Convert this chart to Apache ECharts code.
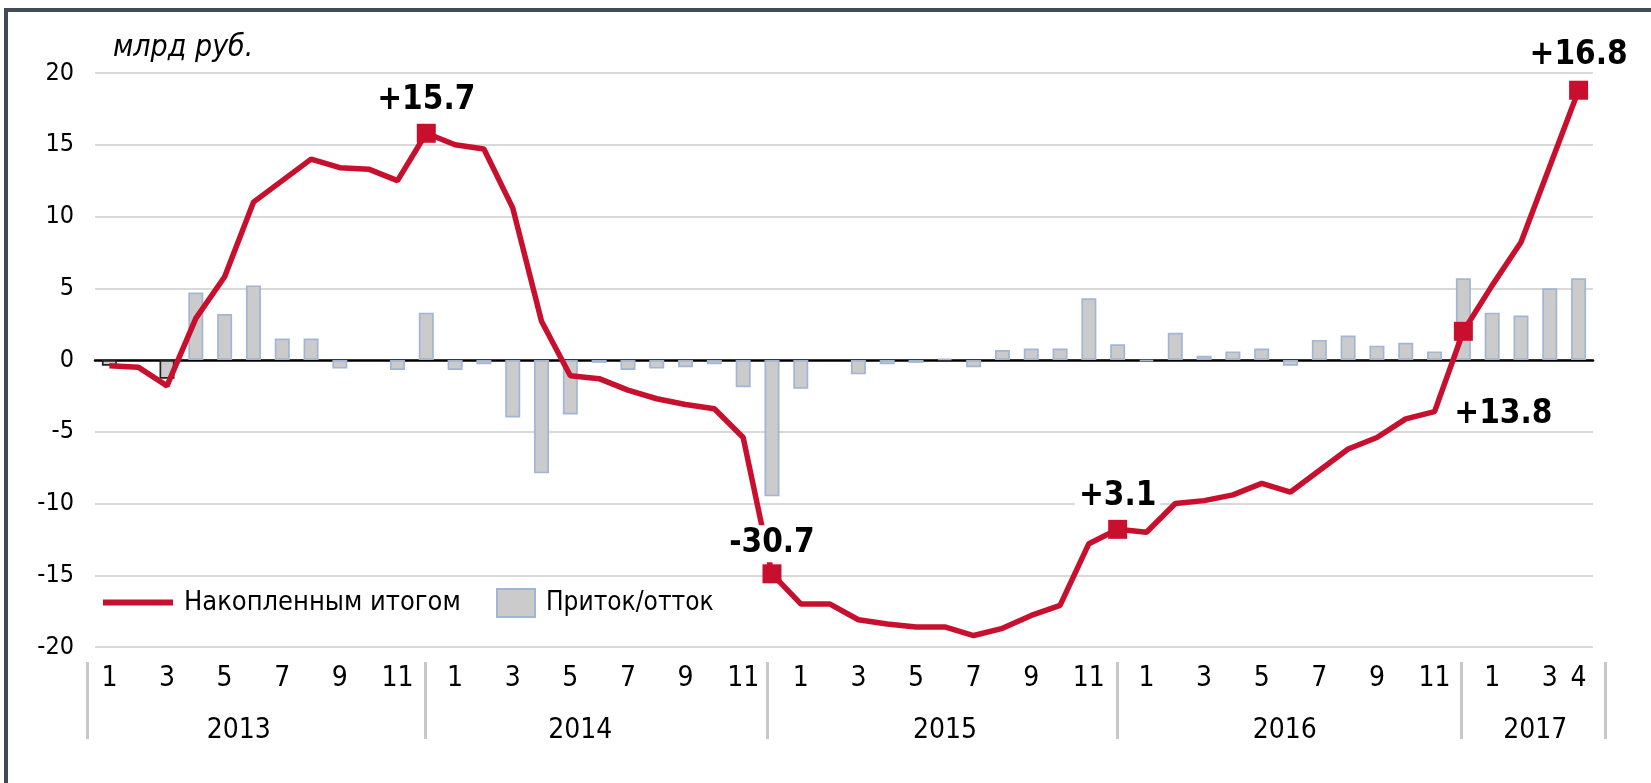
<!DOCTYPE html>
<html>
<head>
<meta charset="utf-8">
<script src="https://cdn.jsdelivr.net/npm/echarts@6/dist/echarts.min.js"></script>
<style>
    html, body { margin: 0; padding: 0; background: #fff; }
    #chart { position: absolute; left: 0; top: 0; width: 1651px; height: 783px; }
    #frame { position: absolute; left: 4px; top: 8px; right: 0; bottom: 0;
             border-top: 4px solid #404b55; border-left: 4px solid #404b55; pointer-events: none; }
</style>
</head>
<body>
<div id="chart"></div>
<div id="frame"></div>
<script>
const font = "'DejaVu Sans Condensed', 'Noto Sans', sans-serif";

// month of each point, 2013-01 .. 2017-04
const months = [
    '1', '2', '3', '4', '5', '6', '7', '8', '9', '10', '11', '12',
    '1', '2', '3', '4', '5', '6', '7', '8', '9', '10', '11', '12',
    '1', '2', '3', '4', '5', '6', '7', '8', '9', '10', '11', '12',
    '1', '2', '3', '4', '5', '6', '7', '8', '9', '10', '11', '12',
    '1', '2', '3', '4'
];
// monthly inflow/outflow, bn rub
const flow = [
    -0.4, 0, -1.3, 4.7, 3.2, 5.2, 1.5, 1.5, -0.6, 0, -0.7, 3.3,
    -0.7, -0.3, -4.0, -7.9, -3.8, -0.2, -0.7, -0.6, -0.5, -0.3, -1.9, -9.5,
    -2.0, 0, -1.0, -0.3, -0.2, 0.1, -0.5, 0.7, 0.8, 0.8, 4.3, 1.1,
    -0.1, 1.9, 0.3, 0.6, 0.8, -0.4, 1.4, 1.7, 1.0, 1.2, 0.6, 5.7,
    3.3, 3.1, 5.0, 5.7
];
// cumulative total
const cumulative = [
    -0.4, -0.5, -1.8, 2.9, 5.8, 11.0, 12.5, 14.0, 13.4, 13.3, 12.5, 15.8,
    15.0, 14.7, 10.6, 2.7, -1.1, -1.3, -2.1, -2.7, -3.1, -3.4, -5.4, -14.9,
    -17.0, -17.0, -18.1, -18.4, -18.6, -18.6, -19.2, -18.7, -17.8, -17.1, -12.8, -11.8,
    -12.0, -10.0, -9.8, -9.4, -8.6, -9.2, -7.7, -6.2, -5.4, -4.1, -3.6, 2.0,
    5.2, 8.2, 13.5, 18.8
];
const outlinedBars = [0, 2];
const markIdx = [11, 23, 35, 47, 51];
const markText = ['+15.7', '-30.7', '+3.1', '+13.8', '+16.8'];
const years = ['2013', '2014', '2015', '2016', '2017'];
// where the year captions and the separators sit, in months from the start
const yearLabelAt = [4.98, 16.84, 29.5, 41.3, 50.0];
const yearBreaks = [-0.29, 11.44, 23.34, 35.47, 47.44, 52.42];

const red = '#c8102e';

const barData = flow.map((v, i) => {
    const item = {value: v};
    if (outlinedBars.includes(i)) item.itemStyle = {borderColor: '#222'};
    if (v === 0) item.itemStyle = {borderWidth: 0};
    return item;
});

const lineData = cumulative.map((v, i) => {
    const k = markIdx.indexOf(i);
    if (k < 0) return v;
    const label = {
        show: true,
        formatter: markText[k],
        position: 'top',
        distance: 5,
        fontFamily: font,
        fontWeight: 'bold',
        fontSize: 33,
        color: '#000',
        padding: [2, 4]
    };
    // these two sit on top of a line / gridline and blank it out
    if (markText[k] === '-30.7' || markText[k] === '+3.1') label.backgroundColor = '#fff';
    if (markText[k] === '-30.7') label.distance = 2;
    if (markText[k] === '+16.8') label.distance = 7;
    if (markText[k] === '+13.8') {
        label.position = 'bottom';
        label.offset = [40, 50];
    }
    return {value: v, symbol: 'rect', symbolSize: 19, label: label};
});

const option = {
    animation: false,
    title: {
        text: 'млрд руб.',
        left: 108,
        top: 28,
        textStyle: {fontFamily: font, fontStyle: 'italic', fontWeight: 'normal', fontSize: 30, color: '#000'}
    },
    legend: [{
        data: ['Накопленным итогом'],
        left: 98,
        top: 584,
        icon: 'rect',
        itemWidth: 70,
        itemHeight: 6,
        textStyle: {fontFamily: font, fontSize: 27, color: '#000', padding: [0, 0, 0, 6]}
    }, {
        data: ['Приток/отток'],
        left: 491,
        top: 583,
        icon: 'rect',
        itemWidth: 38,
        itemHeight: 28,
        textStyle: {fontFamily: font, fontSize: 26, color: '#000', padding: [0, 0, 0, 6]}
    }],
    grid: [
        {left: 95, right: 58, top: 73, bottom: 136},
        {left: 87, right: 46, top: 661, height: 1}
    ],
    xAxis: [{
        type: 'category',
        gridIndex: 0,
        data: months,
        position: 'bottom',
        axisLine: {show: false, onZero: false},
        axisTick: {show: false},
        axisLabel: {
            interval: (i) => Number(months[i]) % 2 === 1 || i === months.length - 1,
            margin: 18,
            fontFamily: font,
            fontSize: 28,
            color: '#000'
        }
    }, {
        type: 'category',
        gridIndex: 0,
        data: months,
        position: 'top',
        axisLine: {show: true, onZero: true, lineStyle: {color: '#000', width: 2.5}},
        axisTick: {show: false},
        axisLabel: {show: false}
    }, {
        type: 'value',
        gridIndex: 1,
        min: yearBreaks[0],
        max: yearBreaks[yearBreaks.length - 1],
        position: 'bottom',
        axisLine: {show: false},
        splitLine: {show: false},
        axisTick: {show: true, customValues: yearBreaks, length: 77, lineStyle: {color: '#c8c8c8', width: 3}},
        axisLabel: {
            customValues: yearLabelAt,
            formatter: (v) => {
                let best = 0;
                yearLabelAt.forEach((p, k) => { if (Math.abs(p - v) < Math.abs(yearLabelAt[best] - v)) best = k; });
                return years[best];
            },
            margin: 55,
            fontFamily: font,
            fontSize: 28,
            color: '#000'
        }
    }],
    yAxis: [{
        type: 'value',
        gridIndex: 0,
        min: -20,
        max: 20,
        interval: 5,
        axisLine: {show: false},
        axisTick: {show: false},
        splitLine: {lineStyle: {color: '#d9d9d9', width: 2}},
        axisLabel: {margin: 21, fontFamily: font, fontSize: 25, color: '#000'}
    }, {
        type: 'value',
        gridIndex: 1,
        show: false
    }],
    series: [{
        name: 'Приток/отток',
        type: 'bar',
        xAxisIndex: 0,
        yAxisIndex: 0,
        barWidth: 15,
        itemStyle: {color: '#cbcbcb', borderColor: '#a2b5d3', borderWidth: 1.7},
        data: barData
    }, {
        name: 'Накопленным итогом',
        type: 'line',
        xAxisIndex: 0,
        yAxisIndex: 0,
        symbol: 'none',
        color: red,
        lineStyle: {color: red, width: 5.5},
        itemStyle: {color: red},
        z: 4,
        data: lineData
    }]
};

const chart = echarts.init(document.getElementById('chart'), null, {renderer: 'canvas'});
chart.setOption(option);
</script>
</body>
</html>
